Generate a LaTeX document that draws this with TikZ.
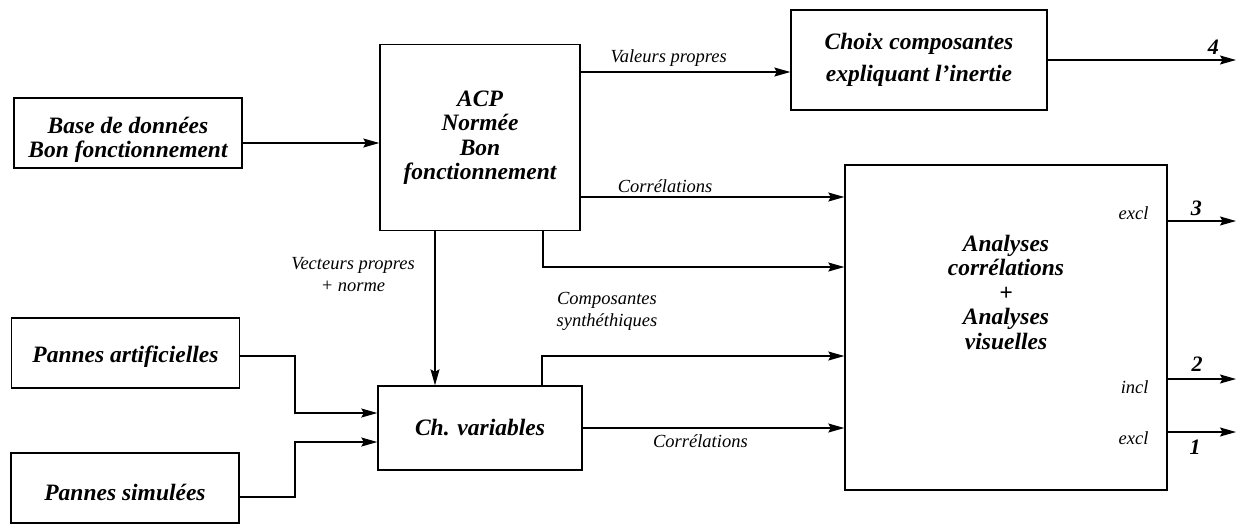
\documentclass[tikz,border=0pt]{standalone}
\usepackage{fontspec}
\setmainfont{Liberation Serif}
\usetikzlibrary{arrows.meta,calc}
\begin{document}
\begin{tikzpicture}[x=1pt,y=-1pt,
  box/.style={draw,line width=1.4pt,align=center,inner sep=0pt,
    font=\fontsize{23.5}{24.5}\selectfont\bfseries\itshape},
  btext/.style={align=center,inner sep=0pt,
    font=\fontsize{23.5}{24.5}\selectfont\bfseries\itshape},
  arr/.style={line width=1.1pt,-{Stealth[length=16pt,width=9pt,inset=2.5pt]}},
  lab/.style={font=\fontsize{18.5}{22}\selectfont\itshape,inner sep=1pt},
  num/.style={font=\fontsize{22}{23}\selectfont\bfseries\itshape,inner sep=1pt}]
\useasboundingbox (0,0) rectangle (1237,523);
\node[box,minimum width=228pt,minimum height=70pt] (base) at (128,133) {};
\node[btext] (basetxt) at (128,140) {Base de données\\Bon fonctionnement};
\node[box,minimum width=200pt,minimum height=186pt] (acp) at (480,137.5) {ACP\\Normée\\Bon\\fonctionnement};
\node[box,minimum width=256pt,minimum height=100pt] (choix) at (919,60) {Choix composantes\\[7pt]expliquant l'inertie};
\node[box,minimum width=322pt,minimum height=325pt] (big) at (1006,327.5) {};
\node[btext] (bigtxt) at (1006,292) {Analyses\\corrélations\\+\\Analyses\\visuelles};
\node[box,minimum width=228pt,minimum height=70pt] (part) at (125.5,353) {};
\node[btext] (parttxt) at (125.5,357) {Pannes artificielles};
\node[box,minimum width=228pt,minimum height=70pt] (psim) at (125,488) {};
\node[btext] (psimtxt) at (125,492) {Pannes simulées};
\node[box,minimum width=204pt,minimum height=84pt] (ch) at (480,428) {Ch. variables};
% outputs
\coordinate (o4) at (1236,60);
\coordinate (o3) at (1236,221);
\coordinate (o2) at (1236,379);
\coordinate (o1) at (1236,432);
\draw[arr] (base.east |- 0,143) -- (acp.west |- 0,143);
\draw[arr] (acp.east |- 0,72) -- node[lab,above=4pt,pos=0.42]{Valeurs propres} (choix.west |- 0,72);
\draw[arr] (choix.east |- o4) -- node[num,above=4pt,pos=0.88]{4} (o4);
\draw[arr] (acp.east |- 0,197) -- node[lab,above=3pt,pos=0.32]{Corrélations} (big.west |- 0,197);
\draw[arr] (acp.south -| 543,0) -- (543,267) -- (big.west |- 0,267);
\draw[arr] (acp.south -| 435,0) -- (ch.north -| 435,0);
\node[lab,align=center] (vp) at (353,275) {Vecteurs propres\\+ norme};
\node[lab,align=center] (cs) at (607,311) {Composantes\\synthéthiques};
\draw[arr] (ch.north -| 542,0) -- (542,356) -- (big.west |- 0,356);
\draw[arr] (ch.east |- 0,428) -- node[lab,below=5pt,pos=0.45]{Corrélations} (big.west |- 0,428);
\draw[arr] (part.east |- 0,356) -- (295,356) -- (295,413) -- (ch.west |- 0,413);
\draw[arr] (psim.east |- 0,497) -- (295,497) -- (295,442) -- (ch.west |- 0,442);
\draw[arr] (big.east |- o3) -- node[num,above=4pt,pos=0.42]{3} (o3);
\draw[arr] (big.east |- o2) -- node[num,above=6pt,pos=0.43]{2} (o2);
\draw[arr] (big.east |- o1) -- node[num,below=6pt,pos=0.4]{1} (o1);
\node[lab,left=18pt] (e3) at (big.east |- 0,213) {excl};
\node[lab,left=18pt] (i2) at (big.east |- 0,387) {incl};
\node[lab,left=18pt] (e1) at (big.east |- 0,438) {excl};
\end{tikzpicture}
\end{document}
